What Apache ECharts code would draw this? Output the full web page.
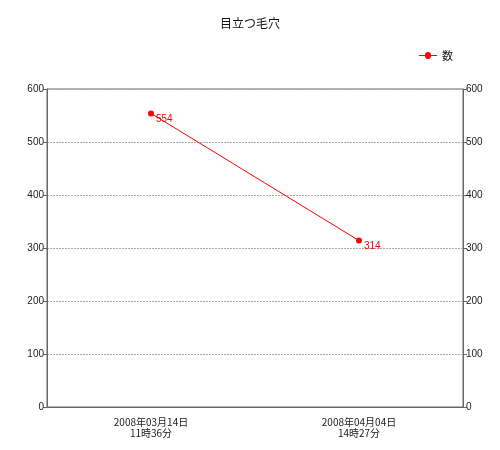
<!DOCTYPE html>
<html>
<head>
<meta charset="utf-8">
<script src="https://cdn.jsdelivr.net/npm/echarts@6/dist/echarts.min.js"></script>
<style>
  html, body { margin: 0; padding: 0; background: #fff; }
  #chart { width: 500px; height: 450px; }
</style>
</head>
<body>
<div id="chart"></div>
<script>
  // 日付カテゴリと値
  const categories = ['2008年03月14日\n11時36分', '2008年04月04日\n14時27分']
  const values = [554, 314]
  const yTicks = [0, 100, 200, 300, 400, 500, 600]

  const font = '"Noto Sans CJK JP", "DejaVu Sans", sans-serif'
  const myChart = echarts.init(document.getElementById('chart'))

  const yAxisBase = {
    type: 'value',
    min: yTicks[0],
    max: yTicks[yTicks.length - 1],
    interval: yTicks[1] - yTicks[0],
    axisLine: { show: true, lineStyle: { color: '#666', width: 1 } },
    axisTick: { show: true, length: 4, lineStyle: { color: '#666' } },
    axisLabel: { color: '#222', fontSize: 10, fontFamily: 'Arial, "Liberation Sans", sans-serif', margin: 3 }
  }

  myChart.setOption({
    animation: false,
    backgroundColor: '#fff',
    title: {
      text: '目立つ毛穴',
      left: 'center',
      top: 12,
      textStyle: { fontSize: 12, fontWeight: 'normal', color: '#111', fontFamily: font }
    },
    legend: {
      right: 42,
      top: 45,
      itemWidth: 18,
      itemHeight: 8,
      itemGap: 6,
      textStyle: { fontSize: 11, color: '#111', fontFamily: font },
      data: [{ name: '数', icon: 'path://M0,4L6,4A3,3 0 1 1 12,4L18,4L18,5L12,5A3,3 0 1 1 6,5L0,5Z' }]
    },
    grid: { left: 47, right: 37, top: 89, bottom: 43, show: true, borderColor: '#666', borderWidth: 1 },
    xAxis: {
      type: 'category',
      data: categories,
      boundaryGap: true,
      axisLine: { lineStyle: { color: '#666' } },
      axisTick: { show: false },
      axisLabel: { color: '#222', fontSize: 10, lineHeight: 11, margin: 10, fontFamily: font }
    },
    yAxis: [
      Object.assign({}, yAxisBase, {
        position: 'left',
        splitLine: { show: true, lineStyle: { color: '#aaa', type: [2, 1], width: 1 } }
      }),
      Object.assign({}, yAxisBase, {
        position: 'right',
        splitLine: { show: false }
      })
    ],
    series: [
      {
        name: '数',
        type: 'line',
        data: values,
        color: '#ff0000',
        symbol: 'circle',
        symbolSize: 6,
        lineStyle: { width: 1, color: '#ff0000' },
        itemStyle: { color: '#ff0000' },
        label: {
          show: true,
          position: 'right',
          distance: 2,
          offset: [0, 6],
          color: '#ff0000',
          fontSize: 10,
          fontFamily: 'Arial, "Liberation Sans", sans-serif'
        }
      }
    ]
  })
</script>
</body>
</html>
